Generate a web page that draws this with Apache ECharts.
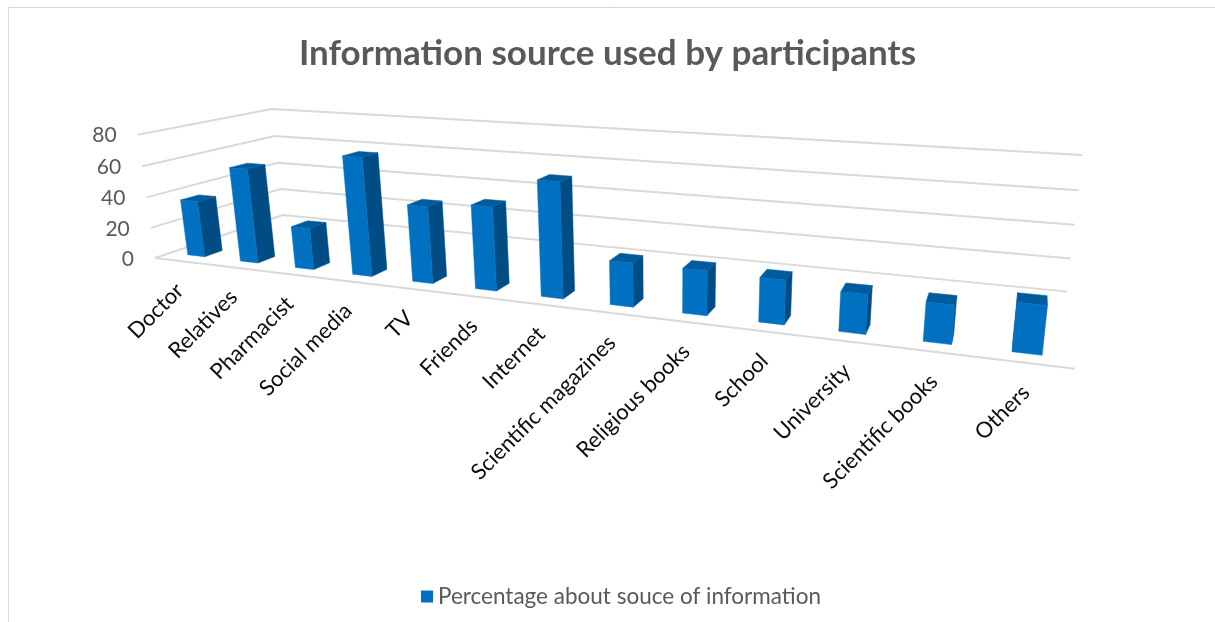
<!DOCTYPE html>
<html>
<head>
<meta charset="utf-8">
<title>Information source used by participants</title>
<script src="https://cdn.jsdelivr.net/npm/echarts@6/dist/echarts.min.js"></script>
<style>
  html, body { margin: 0; padding: 0; background: #ffffff; }
  #chart { width: 1215px; height: 622px; }
</style>
</head>
<body>
<div id="chart"></div>
<script>
// ---- data ----
const categories = ['Doctor', 'Relatives', 'Pharmacist', 'Social media', 'TV', 'Friends', 'Internet',
  'Scientific magazines', 'Religious books', 'School', 'University', 'Scientific books', 'Others'];
const percentages = [36.6, 60.5, 26.3, 73.2, 46.8, 50.1, 67.7, 25.4, 25.4, 24.7, 21.5, 20.8, 25.5];
const valueTicks = [0, 20, 40, 60, 80];
const tickLabels = ['0', '20', '40', '60', '80'];
const seriesName = 'Percentage about souce of information';
const chartTitle = 'Information source used by participants';

// ---- 3D view: camera pitched down and the plot box turned about the vertical axis ----
const VIEW = { f: 1006, cx: 664, cy: 242, pitch: 15.5 * Math.PI / 180, yaw: 19.45 * Math.PI / 180 };
// plot box in camera-level space (camera height above the floor = 1 unit)
const BOX = { x0: -1.791, y0: -1, z0: 3.396, width: 3.014, depth: 0.665, height: 0.437 };
const BAR = { widthRatio: 0.3235, front: 0.07, depth: 0.085 };
const COLORS = { front: '#0070C0', side: '#004C85', top: '#005A9E', grid: '#D9D9D9' };
const FONT = 'Lato';

const cosY = Math.cos(VIEW.yaw), sinY = Math.sin(VIEW.yaw);
const cosP = Math.cos(VIEW.pitch), sinP = Math.sin(VIEW.pitch);

// position in camera-level space of box point (X along categories, Y up, d into depth)
function worldPoint(X, Y, d) {
  return [BOX.x0 + X * cosY + d * sinY, BOX.y0 + Y, BOX.z0 - X * sinY + d * cosY];
}
function projectPoint(p) {
  const yc = p[1] * cosP + p[2] * sinP;
  const zc = p[2] * cosP - p[1] * sinP;
  return [VIEW.cx + VIEW.f * p[0] / zc, VIEW.cy - VIEW.f * yc / zc];
}
function project(X, Y, d) { return projectPoint(worldPoint(X, Y, d)); }

// convert cartesian pixel coordinates of the (hidden) front elevation into box units
function toBox(cs, pt) {
  return [
    (pt[0] - cs.x) / cs.width * BOX.width,
    (cs.y + cs.height - pt[1]) / cs.height * BOX.height
  ];
}

// a face is drawn only when it faces the camera
function faceVisible(corners, normal) {
  const p = worldPoint(corners[0][0], corners[0][1], corners[0][2]);
  return -(p[0] * normal[0] + p[1] * normal[1] + p[2] * normal[2]) > 0;
}
function face(corners, color) {
  return {
    type: 'polygon',
    shape: { points: corners.map(c => project(c[0], c[1], c[2])) },
    style: { fill: color, stroke: color, lineWidth: 0.5 }
  };
}

function renderWalls(params, api) {
  const cs = params.coordSys;
  const t = api.value(1);
  const Y = toBox(cs, api.coord([0, t]))[1];
  const W = BOX.width, D = BOX.depth;
  const lineStyle = { stroke: COLORS.grid, lineWidth: 2, fill: null };
  const children = [{
    type: 'polyline',
    shape: { points: [project(0, Y, 0), project(0, Y, D), project(W, Y, D)] },
    style: lineStyle
  }];
  if (t === valueTicks[0]) {
    const a = project(0, Y, 0), b = project(W, Y, 0);
    children.push({
      type: 'line',
      shape: { x1: a[0], y1: a[1], x2: b[0], y2: b[1] },
      style: lineStyle
    });
  }
  const edge = project(0, Y, 0);
  children.push({
    type: 'text',
    x: edge[0] - 21, y: edge[1] + 1,
    style: {
      text: tickLabels[params.dataIndex], align: 'right', verticalAlign: 'middle',
      fill: '#595959', font: '21px ' + FONT
    }
  });
  return { type: 'group', children: children };
}

function renderBars(params, api) {
  const cs = params.coordSys;
  const i = api.value(0);
  const base = api.coord([i, 0]);
  const top = api.coord([i, api.value(1)]);
  const band = api.size([1, 0])[0];
  const Xc = toBox(cs, base)[0];
  const half = BAR.widthRatio * band / cs.width * BOX.width / 2;
  const h = toBox(cs, top)[1];
  const x0 = Xc - half, x1 = Xc + half;
  const d0 = BAR.front, d1 = BAR.front + BAR.depth;

  const front = [[x0, 0, d0], [x1, 0, d0], [x1, h, d0], [x0, h, d0]];
  const right = [[x1, 0, d0], [x1, 0, d1], [x1, h, d1], [x1, h, d0]];
  const left = [[x0, 0, d1], [x0, 0, d0], [x0, h, d0], [x0, h, d1]];
  const topFace = [[x0, h, d0], [x1, h, d0], [x1, h, d1], [x0, h, d1]];

  const children = [];
  if (faceVisible(left, [-cosY, 0, sinY])) children.push(face(left, COLORS.side));
  if (faceVisible(right, [cosY, 0, -sinY])) children.push(face(right, COLORS.side));
  children.push(face(topFace, COLORS.top));
  children.push(face(front, COLORS.front));

  // category label under the front edge of the floor
  const anchor = project(Xc, 0, 0);
  children.push({
    type: 'text',
    x: anchor[0] - 1, y: anchor[1] + 26,
    rotation: Math.PI / 4,
    style: {
      text: categories[i], align: 'right', verticalAlign: 'middle',
      fill: '#0D0D0D', font: '22px ' + FONT
    }
  });
  return { type: 'group', children: children };
}

const chart = echarts.init(document.getElementById('chart'), null, { renderer: 'canvas' });
chart.setOption({
  backgroundColor: '#ffffff',
  animation: false,
  title: {
    text: chartTitle,
    left: 'center',
    top: 31,
    textStyle: { fontFamily: FONT, fontWeight: 'bold', fontSize: 35, color: '#595959' }
  },
  legend: {
    data: [seriesName],
    left: 421,
    top: 585,
    padding: 0,
    icon: 'rect',
    itemWidth: 12,
    itemHeight: 12,
    selectedMode: false,
    textStyle: { fontFamily: FONT, fontSize: 22.5, color: '#595959' }
  },
  graphic: [{
    type: 'rect',
    shape: { x: 8.5, y: 7.5, width: 1400, height: 800 },
    style: { fill: null, stroke: '#D9D9D9', lineWidth: 1 },
    silent: true
  }],
  grid: { left: 100, right: 100, top: 100, bottom: 100 },
  xAxis: { type: 'category', data: categories, show: false },
  yAxis: { type: 'value', min: 0, max: 80, interval: 20, show: false },
  series: [
    {
      name: 'walls',
      type: 'custom',
      coordinateSystem: 'cartesian2d',
      silent: true,
      clip: false,
      z: 1,
      data: valueTicks.map(t => [0, t]),
      renderItem: renderWalls
    },
    {
      name: seriesName,
      type: 'custom',
      coordinateSystem: 'cartesian2d',
      silent: true,
      clip: false,
      z: 2,
      itemStyle: { color: COLORS.front },
      data: percentages.map((v, i) => [i, v]),
      renderItem: renderBars
    }
  ]
});
</script>
</body>
</html>
